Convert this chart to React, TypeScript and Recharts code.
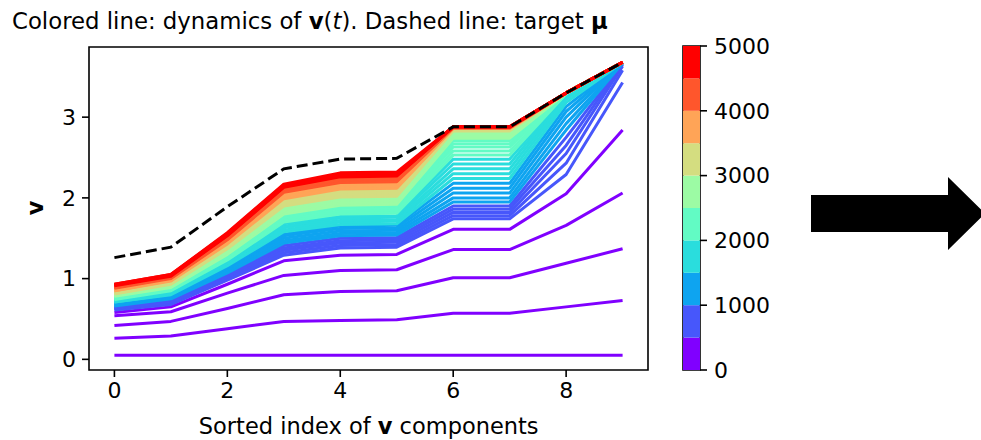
import { Bar, BarChart, Line, LineChart, ReferenceArea, XAxis, YAxis } from 'recharts';

const FONT = '"DejaVu Sans", sans-serif';

// sorted component index on the x axis
const componentIndex = [0, 1, 2, 3, 4, 5, 6, 7, 8, 9];

// target mu (dashed)
const mu = [1.26, 1.39, 1.89, 2.36, 2.48, 2.49, 2.88, 2.88, 3.3, 3.68];

// snapshot times of v(t)
const times = [
    0, 100, 200, 300, 400, 500, 600, 700, 800, 900,
    1000, 1100, 1200, 1300, 1400, 1500, 1600, 1700, 1800, 1900,
    2000, 2100, 2200, 2300, 2400, 2500, 2600, 2700, 2800, 2900,
    3000, 3100, 3200, 3300, 3400, 3500, 3600, 3700, 3800, 3900,
    4000, 4100, 4200, 4300, 4400, 4500, 4600, 4700, 4800, 4900,
];

// v_i(t) for each component, one value per snapshot time
const comp0 = [
    0.05, 0.26, 0.42, 0.54, 0.58, 0.61, 0.62, 0.63, 0.64, 0.65,
    0.66, 0.67, 0.68, 0.69, 0.7, 0.71, 0.71, 0.72, 0.73, 0.74,
    0.74, 0.75, 0.76, 0.77, 0.77, 0.78, 0.79, 0.79, 0.8, 0.81,
    0.81, 0.82, 0.83, 0.83, 0.84, 0.85, 0.85, 0.86, 0.87, 0.87,
    0.88, 0.89, 0.89, 0.9, 0.91, 0.91, 0.92, 0.92, 0.93, 0.93,
];
const comp1 = [
    0.05, 0.29, 0.47, 0.59, 0.65, 0.68, 0.7, 0.71, 0.72, 0.74,
    0.75, 0.76, 0.77, 0.78, 0.79, 0.8, 0.81, 0.82, 0.83, 0.84,
    0.85, 0.86, 0.87, 0.88, 0.89, 0.89, 0.9, 0.91, 0.92, 0.93,
    0.93, 0.94, 0.95, 0.96, 0.96, 0.97, 0.98, 0.98, 0.99, 1.0,
    1.0, 1.01, 1.01, 1.02, 1.03, 1.03, 1.04, 1.04, 1.05, 1.05,
];
const comp2 = [
    0.05, 0.38, 0.63, 0.82, 0.93, 0.98, 1.0, 1.02, 1.04, 1.06,
    1.07, 1.09, 1.11, 1.13, 1.14, 1.16, 1.17, 1.19, 1.2, 1.22,
    1.23, 1.25, 1.26, 1.28, 1.29, 1.3, 1.32, 1.33, 1.34, 1.36,
    1.37, 1.38, 1.39, 1.4, 1.42, 1.43, 1.44, 1.45, 1.46, 1.47,
    1.48, 1.49, 1.5, 1.51, 1.52, 1.53, 1.54, 1.55, 1.56, 1.57,
];
const comp3 = [
    0.05, 0.47, 0.8, 1.04, 1.22, 1.29, 1.32, 1.35, 1.38, 1.41,
    1.44, 1.47, 1.5, 1.53, 1.55, 1.58, 1.6, 1.63, 1.65, 1.68,
    1.7, 1.72, 1.74, 1.76, 1.78, 1.8, 1.82, 1.84, 1.86, 1.88,
    1.9, 1.92, 1.94, 1.96, 1.97, 1.99, 2.01, 2.02, 2.04, 2.05,
    2.07, 2.08, 2.1, 2.11, 2.12, 2.13, 2.14, 2.15, 2.16, 2.17,
];
const comp4 = [
    0.05, 0.48, 0.84, 1.1, 1.29, 1.38, 1.41, 1.44, 1.47, 1.5,
    1.53, 1.56, 1.59, 1.62, 1.65, 1.67, 1.7, 1.72, 1.75, 1.77,
    1.8, 1.82, 1.84, 1.87, 1.89, 1.91, 1.93, 1.95, 1.97, 1.99,
    2.01, 2.03, 2.05, 2.07, 2.09, 2.11, 2.12, 2.14, 2.16, 2.17,
    2.19, 2.2, 2.22, 2.23, 2.25, 2.26, 2.27, 2.28, 2.29, 2.31,
];
const comp5 = [
    0.05, 0.49, 0.85, 1.11, 1.3, 1.39, 1.42, 1.45, 1.48, 1.51,
    1.54, 1.57, 1.6, 1.63, 1.66, 1.68, 1.71, 1.73, 1.76, 1.78,
    1.81, 1.83, 1.85, 1.88, 1.9, 1.92, 1.94, 1.96, 1.98, 2.0,
    2.02, 2.04, 2.06, 2.08, 2.1, 2.12, 2.13, 2.15, 2.17, 2.18,
    2.2, 2.21, 2.23, 2.24, 2.26, 2.27, 2.28, 2.29, 2.3, 2.32,
];
const comp6 = [
    0.05, 0.57, 1.01, 1.36, 1.61, 1.74, 1.78, 1.82, 1.86, 1.9,
    1.95, 2.0, 2.06, 2.12, 2.18, 2.24, 2.3, 2.36, 2.42, 2.48,
    2.53, 2.58, 2.63, 2.67, 2.71, 2.74, 2.77, 2.79, 2.81, 2.82,
    2.83, 2.84, 2.85, 2.85, 2.86, 2.86, 2.86, 2.87, 2.87, 2.87,
    2.87, 2.87, 2.87, 2.88, 2.88, 2.88, 2.88, 2.88, 2.88, 2.88,
];
const comp7 = [
    0.05, 0.57, 1.01, 1.36, 1.61, 1.74, 1.78, 1.82, 1.86, 1.9,
    1.95, 2.0, 2.06, 2.12, 2.18, 2.24, 2.3, 2.36, 2.42, 2.48,
    2.53, 2.58, 2.63, 2.67, 2.71, 2.74, 2.77, 2.79, 2.81, 2.82,
    2.83, 2.84, 2.85, 2.85, 2.86, 2.86, 2.86, 2.87, 2.87, 2.87,
    2.87, 2.87, 2.87, 2.88, 2.88, 2.88, 2.88, 2.88, 2.88, 2.88,
];
const comp8 = [
    0.05, 0.65, 1.19, 1.66, 2.05, 2.29, 2.43, 2.55, 2.65, 2.75,
    2.84, 2.92, 3.0, 3.07, 3.13, 3.18, 3.22, 3.25, 3.27, 3.28,
    3.29, 3.29, 3.3, 3.3, 3.3, 3.3, 3.3, 3.3, 3.3, 3.3,
    3.3, 3.3, 3.3, 3.3, 3.3, 3.3, 3.3, 3.3, 3.3, 3.3,
    3.3, 3.3, 3.3, 3.3, 3.3, 3.3, 3.3, 3.3, 3.3, 3.3,
];
const comp9 = [
    0.05, 0.73, 1.37, 2.06, 2.84, 3.43, 3.58, 3.63, 3.65, 3.66,
    3.67, 3.67, 3.68, 3.68, 3.68, 3.68, 3.68, 3.68, 3.68, 3.68,
    3.68, 3.68, 3.68, 3.68, 3.68, 3.68, 3.68, 3.68, 3.68, 3.68,
    3.68, 3.68, 3.68, 3.68, 3.68, 3.68, 3.68, 3.68, 3.68, 3.68,
    3.68, 3.68, 3.68, 3.68, 3.68, 3.68, 3.68, 3.68, 3.68, 3.68,
];
const components = [comp0, comp1, comp2, comp3, comp4, comp5, comp6, comp7, comp8, comp9];

// colorbar: 10 bins of 500 steps, rainbow
const binSize = 500;
const binColors = [
    '#8000ff', '#4757fb', '#0ea4f0', '#2adddd', '#62fbc4',
    '#9cfba4', '#d4dd80', '#ffa457', '#ff562c', '#ff0000',
];
const colorbarTicks = [0, 1000, 2000, 3000, 4000, 5000];

const xTicks = [0, 2, 4, 6, 8];
const yTicks = [0, 1, 2, 3];
const xDomain = [-0.45, 9.45];
const yDomain = [-0.132, 3.869];

const chartData = componentIndex.map((i) => {
    const row: Record<string, number> = { idx: i, mu: mu[i] };
    times.forEach((t, k) => {
        row[`t${t}`] = components[i][k];
    });
    return row;
});

const colorbarRow: Record<string, number | string> = { name: 'bar' };
binColors.forEach((_, b) => {
    colorbarRow[`b${b}`] = binSize;
});

const tickStyle = { fontSize: 22, fill: '#000', fontFamily: FONT };

export default function App() {
    return (
        <div style={{ position: 'absolute', left: 0, top: 0, width: 981, height: 440, background: '#fff' }}>
            <div style={{ position: 'absolute', left: 0, top: 0 }}>
                <LineChart width={981} height={440} data={chartData} margin={{ top: 47, right: 333, bottom: 30, left: 29 }}>
                    <XAxis
                        dataKey="idx"
                        type="number"
                        domain={xDomain}
                        ticks={xTicks}
                        allowDataOverflow
                        axisLine={false}
                        tickLine={{ stroke: '#000', strokeWidth: 1.6 }}
                        tickSize={7}
                        tickMargin={5}
                        tick={tickStyle}
                        height={40}
                    />
                    <YAxis
                        type="number"
                        domain={yDomain}
                        ticks={yTicks}
                        allowDataOverflow
                        axisLine={false}
                        tickLine={{ stroke: '#000', strokeWidth: 1.6 }}
                        tickSize={7}
                        tickMargin={6}
                        tick={tickStyle}
                        width={60}
                    />
                    <ReferenceArea
                        x1={xDomain[0]}
                        x2={xDomain[1]}
                        y1={yDomain[0]}
                        y2={yDomain[1]}
                        fill="none"
                        stroke="#000"
                        strokeWidth={1.6}
                    />
                    {times.map((t) => (
                        <Line
                            key={t}
                            dataKey={`t${t}`}
                            stroke={binColors[Math.floor(t / binSize)]}
                            strokeWidth={3}
                            strokeLinejoin="round"
                            dot={false}
                            activeDot={false}
                            isAnimationActive={false}
                        />
                    ))}
                    <Line
                        dataKey="mu"
                        stroke="#000"
                        strokeWidth={3}
                        strokeDasharray="11 5"
                        dot={false}
                        activeDot={false}
                        isAnimationActive={false}
                    />
                </LineChart>
            </div>

            <div style={{ position: 'absolute', left: 0, top: 0 }}>
                <BarChart
                    width={981}
                    height={440}
                    data={[colorbarRow]}
                    margin={{ top: 46, right: 201, bottom: 70, left: 683 }}
                    barCategoryGap={0}
                    barGap={0}
                >
                    <XAxis dataKey="name" hide />
                    <YAxis
                        orientation="right"
                        type="number"
                        domain={[0, 5000]}
                        ticks={colorbarTicks}
                        axisLine={false}
                        tickLine={{ stroke: '#000', strokeWidth: 1.6 }}
                        tickSize={7}
                        tickMargin={7}
                        tick={tickStyle}
                        width={80}
                    />
                    {binColors.map((c, b) => (
                        <Bar key={c} dataKey={`b${b}`} stackId="cb" fill={c} isAnimationActive={false} />
                    ))}
                    <ReferenceArea y1={0} y2={5000} fill="none" stroke="#000" strokeWidth={1.6} />
                </BarChart>
            </div>

            <svg width={981} height={440} style={{ position: 'absolute', left: 0, top: 0, pointerEvents: 'none' }}>
                <text x={12} y={29} fontSize={22.8} fontFamily={FONT} fill="#000">
                    Colored line: dynamics of <tspan fontWeight="bold">v</tspan>(<tspan fontStyle="italic">t</tspan>). Dashed line: target <tspan fontWeight="bold">μ</tspan>
                </text>
                <text x={368.7} y={434} fontSize={22.5} fontFamily={FONT} fill="#000" textAnchor="middle">
                    Sorted index of <tspan fontWeight="bold">v</tspan> components
                </text>
                <text
                    x={0}
                    y={0}
                    fontSize={22.5}
                    fontFamily={FONT}
                    fontWeight="bold"
                    fill="#000"
                    textAnchor="middle"
                    transform="translate(43 208) rotate(-90)"
                >
                    v
                </text>
                <polygon points="811,195 948,195 948,177 985,213.5 948,250 948,232 811,232" fill="#000" />
            </svg>
        </div>
    );
}
